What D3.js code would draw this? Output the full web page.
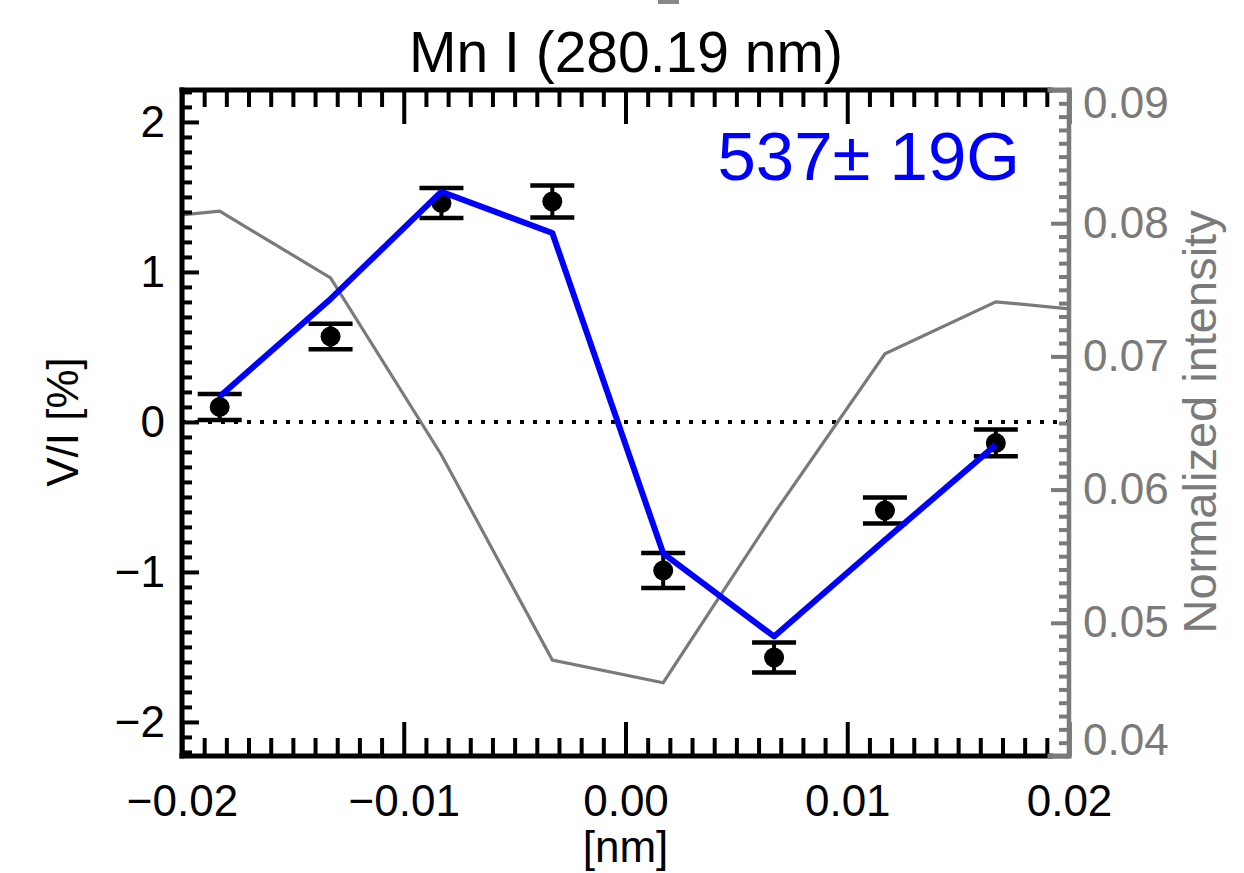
<!doctype html>
<html>
  <head>
    <meta charset="utf-8">
    <title>Mn I (280.19 nm)</title>
    <style>
      body { margin: 0; background: #fff; }
      svg { display: block; font-family: "Liberation Sans", Arial, Helvetica, sans-serif; }
      .axis path { display: none; }
      .axis line { stroke: #000; stroke-width: 4px; }
      .axis text { font-size: 44px; fill: #000; font-family: "Liberation Sans", Arial, Helvetica, sans-serif; }
      .axis-gray line { stroke: #7a7a7a; }
      .axis-gray text { fill: #7a7a7a; }
    </style>
    <script src="https://cdn.jsdelivr.net/npm/d3@7/dist/d3.min.js"></script>
  </head>
  <body>
  </body>
  <script>
    // observed Stokes V/I profile with error bars
    const wavelength = [-0.0183, -0.0133, -0.0083, -0.0033, 0.0017, 0.0067, 0.0117, 0.0167];
    const stokesV = [0.10, 0.57, 1.46, 1.47, -0.99, -1.57, -0.59, -0.14];
    const stokesErr = [0.087, 0.085, 0.10, 0.107, 0.117, 0.10, 0.087, 0.089];
    // fitted profile (blue)
    const fitV = [0.17, 0.82, 1.535, 1.26, -0.876, -1.43, -0.787, -0.153];
    // normalized intensity (gray, right axis)
    const intensityX = [-0.0233, -0.0183, -0.0133, -0.0083, -0.0033, 0.0017, 0.0067, 0.0117, 0.0167, 0.0217];
    const intensity = [0.0801, 0.0809, 0.0759, 0.0626, 0.0472, 0.0455, 0.0582, 0.0702, 0.0741, 0.0733];

    const xTicks = [-0.02, -0.01, 0.00, 0.01, 0.02];
    const yTicks = [-2, -1, 0, 1, 2];
    const y2Ticks = [0.04, 0.05, 0.06, 0.07, 0.08, 0.09];

    const W = 1244, H = 873;
    const mLeft = 182, mRight = 1069, mTop = 90, mBottom = 756;

    const x = d3.scaleLinear().domain([-0.02, 0.02]).range([mLeft, mRight]);
    const y = d3.scaleLinear().domain([-2.227, 2.213]).range([mBottom, mTop]);
    const y2 = d3.scaleLinear().domain([0.04, 0.09]).range([mBottom, mTop]);

    const svg = d3.select("body").append("svg")
        .attr("width", W)
        .attr("height", H);

    svg.append("rect").attr("width", W).attr("height", H).attr("fill", "#fff");

    // stray mark at the very top of the figure
    svg.append("rect").attr("x", 658).attr("y", 0).attr("width", 21).attr("height", 4).attr("fill", "#888");

    svg.append("defs").append("clipPath").attr("id", "plotclip")
      .append("rect").attr("x", mLeft).attr("y", mTop)
      .attr("width", mRight - mLeft).attr("height", mBottom - mTop);

    // title
    svg.append("text")
        .attr("x", 626).attr("y", 72)
        .attr("text-anchor", "middle")
        .style("font-size", "57px")
        .text("Mn I (280.19 nm)");

    // zero line
    svg.append("line")
        .attr("x1", mLeft).attr("x2", mRight)
        .attr("y1", y(0)).attr("y2", y(0))
        .attr("stroke", "#000").attr("stroke-width", 4)
        .attr("stroke-dasharray", "4,9");

    // error bars and points
    const pts = svg.append("g");
    wavelength.forEach(function(w, i) {
      const cx = x(w), lo = y(stokesV[i] - stokesErr[i]), hi = y(stokesV[i] + stokesErr[i]);
      pts.append("line").attr("x1", cx).attr("x2", cx).attr("y1", lo).attr("y2", hi)
        .attr("stroke", "#000").attr("stroke-width", 4);
      [lo, hi].forEach(function(yy) {
        pts.append("line").attr("x1", cx - 22).attr("x2", cx + 22).attr("y1", yy).attr("y2", yy)
          .attr("stroke", "#000").attr("stroke-width", 4.5);
      });
      pts.append("circle").attr("cx", cx).attr("cy", y(stokesV[i])).attr("r", 10).attr("fill", "#000");
    });

    // intensity line
    svg.append("path")
        .datum(intensityX.map(function(w, i) { return [w, intensity[i]]; }))
        .attr("clip-path", "url(#plotclip)")
        .attr("fill", "none")
        .attr("stroke", "#7a7a7a")
        .attr("stroke-width", 3.2)
        .attr("d", d3.line().x(function(d) { return x(d[0]); }).y(function(d) { return y2(d[1]); }));

    // fit line
    svg.append("path")
        .datum(wavelength.map(function(w, i) { return [w, fitV[i]]; }))
        .attr("fill", "none")
        .attr("stroke", "#0000ff")
        .attr("stroke-width", 6)
        .attr("stroke-linejoin", "round")
        .attr("d", d3.line().x(function(d) { return x(d[0]); }).y(function(d) { return y(d[1]); }));

    // minor tick positions
    const xMinor = d3.range(-20, 21).map(function(k) { return k / 1000; }).filter(function(v) { return Math.round(v * 1000) % 10 !== 0; });
    const yMinor = d3.range(-22, 23).map(function(k) { return k / 10; }).filter(function(v) { return Math.round(v * 10) % 10 !== 0; });
    const y2Minor = d3.range(40, 91).map(function(k) { return k / 1000; }).filter(function(v) { return Math.round(v * 1000) % 10 !== 0; });

    // bottom axis
    svg.append("g").attr("class", "axis").attr("transform", "translate(0," + mBottom + ")")
      .call(d3.axisBottom(x).tickValues(xMinor).tickSizeInner(-18).tickSizeOuter(0).tickFormat(""));
    svg.append("g").attr("class", "axis").attr("transform", "translate(0," + mBottom + ")")
      .call(d3.axisBottom(x).tickValues(xTicks).tickSizeInner(-34).tickSizeOuter(0).tickPadding(29).tickFormat(d3.format(".2f")));

    // top axis
    svg.append("g").attr("class", "axis").attr("transform", "translate(0," + mTop + ")")
      .call(d3.axisTop(x).tickValues(xMinor).tickSizeInner(-17).tickSizeOuter(0).tickFormat(""));
    svg.append("g").attr("class", "axis").attr("transform", "translate(0," + mTop + ")")
      .call(d3.axisTop(x).tickValues(xTicks).tickSizeInner(-34).tickSizeOuter(0).tickFormat(""));

    // left axis
    svg.append("g").attr("class", "axis").attr("transform", "translate(" + mLeft + ",0)")
      .call(d3.axisLeft(y).tickValues(yMinor).tickSizeInner(-10).tickSizeOuter(0).tickFormat(""));
    svg.append("g").attr("class", "axis").attr("transform", "translate(" + mLeft + ",0)")
      .call(d3.axisLeft(y).tickValues(yTicks).tickSizeInner(-17).tickSizeOuter(0).tickPadding(17).tickFormat(d3.format("d")));

    // right axis (gray)
    svg.append("g").attr("class", "axis axis-gray").attr("transform", "translate(" + mRight + ",0)")
      .call(d3.axisRight(y2).tickValues(y2Minor).tickSizeInner(-10).tickSizeOuter(0).tickFormat(""));
    const rAxis = svg.append("g").attr("class", "axis axis-gray").attr("transform", "translate(" + mRight + ",0)")
      .call(d3.axisRight(y2).tickValues(y2Ticks).tickSizeInner(-18).tickSizeOuter(0).tickPadding(14).tickFormat(d3.format(".2f")));
    // end labels sit a little inside the axis range
    rAxis.selectAll(".tick text").attr("y", function(d) {
      return d === 0.09 ? 13 : (d === 0.04 ? -16 : 0);
    });

    // frame
    const frame = svg.append("g").attr("stroke-linecap", "square");
    frame.append("line").attr("x1", mLeft).attr("x2", mLeft).attr("y1", mTop).attr("y2", mBottom)
      .attr("stroke", "#000").attr("stroke-width", 5);
    frame.append("line").attr("x1", mLeft).attr("x2", mRight - 19).attr("y1", mTop).attr("y2", mTop)
      .attr("stroke", "#000").attr("stroke-width", 5);
    frame.append("line").attr("x1", mLeft).attr("x2", mRight - 19).attr("y1", mBottom).attr("y2", mBottom)
      .attr("stroke", "#000").attr("stroke-width", 5);
    frame.append("line").attr("x1", mRight - 19).attr("x2", mRight).attr("y1", mTop).attr("y2", mTop)
      .attr("stroke", "#7a7a7a").attr("stroke-width", 5);
    frame.append("line").attr("x1", mRight - 19).attr("x2", mRight).attr("y1", mBottom).attr("y2", mBottom)
      .attr("stroke", "#7a7a7a").attr("stroke-width", 5);
    frame.append("line").attr("x1", mRight).attr("x2", mRight).attr("y1", mTop).attr("y2", mBottom)
      .attr("stroke", "#7a7a7a").attr("stroke-width", 4.5);

    // axis titles
    svg.append("text")
        .attr("transform", "translate(78," + y(0) + ") rotate(-90)")
        .attr("text-anchor", "middle")
        .style("font-size", "44px")
        .text("V/I [%]");

    svg.append("text")
        .attr("transform", "translate(1216," + y(0) + ") rotate(-90)")
        .attr("text-anchor", "middle")
        .attr("fill", "#7a7a7a")
        .style("font-size", "47px")
        .text("Normalized intensity");

    svg.append("text")
        .attr("x", x(0)).attr("y", 862)
        .attr("text-anchor", "middle")
        .style("font-size", "44px")
        .text("[nm]");

    // field strength annotation
    svg.append("text")
        .attr("x", 1020).attr("y", 180)
        .attr("text-anchor", "end")
        .attr("fill", "#0000ff")
        .style("font-size", "69px")
        .text("537\u00b1 19G");
  </script>
</html>
